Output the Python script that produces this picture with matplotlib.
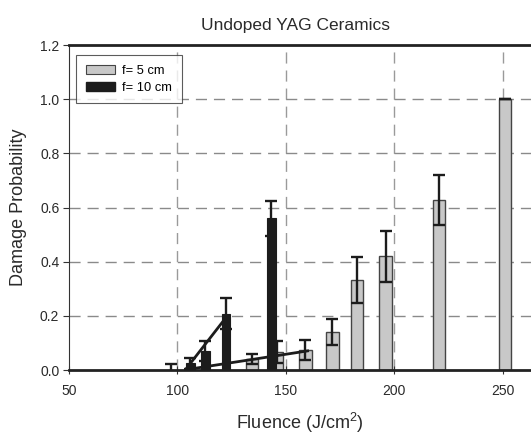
import matplotlib
matplotlib.use("Agg")
import matplotlib.pyplot as plt
from matplotlib.patches import Patch

# ---- data ----
title = "Undoped YAG Ceramics"
xlabel_text = "Fluence (J/cm$^2$)"
ylabel_text = "Damage Probability"
series_labels = ["f= 5 cm", "f= 10 cm"]

# f = 5 cm (gray bars)
f5_x = [134.3, 145.8, 159.0, 171.4, 182.7, 196.0, 220.5, 251.0]
f5_y = [0.040, 0.068, 0.075, 0.141, 0.332, 0.420, 0.628, 1.000]
f5_err = [0.018, 0.040, 0.037, 0.048, 0.085, 0.095, 0.092, 0.0]

# f = 10 cm (black bars)
f10_x = [97.0, 106.0, 112.9, 122.3, 143.3]
f10_y = [0.0, 0.025, 0.070, 0.209, 0.561]
f10_err = [0.022, 0.019, 0.036, 0.056, 0.065]

# fit lines
f10_line_x = [104.1, 120.8]
f10_line_y = [0.006, 0.178]
f5_line_x = [105.0, 160.0]
f5_line_y = [0.003, 0.071]

xticks = [50, 100, 150, 200, 250]
yticks = [0.0, 0.2, 0.4, 0.6, 0.8, 1.0, 1.2]

# ---- figure ----
plt.rcParams['font.family'] = ['Liberation Sans', 'DejaVu Sans']
plt.rcParams['mathtext.fontset'] = 'custom'
plt.rcParams['mathtext.rm'] = 'Liberation Sans'
fig = plt.figure(figsize=(5.31, 4.37), dpi=100)
ax = fig.add_axes([0.130, 0.153, 0.870, 0.744])

gray = "#c8c8c8"
black = "#1c1c1c"
edge = "#444444"
textc = "#2a2a2a"

ax.set_xlim(50, 263)
ax.set_ylim(0, 1.2)

# grid
for xv in xticks[1:]:
    ax.axvline(xv, color="#9a9a9a", lw=1.0, dashes=(8, 5), zorder=0)
for yv in yticks[1:-1]:
    ax.axhline(yv, color="#8a8a8a", lw=1.0, dashes=(8, 5), zorder=0)

ax.bar(f5_x, f5_y, width=5.8, color=gray, edgecolor=edge, linewidth=1.0, zorder=2)
ax.errorbar(f5_x, f5_y, yerr=f5_err, fmt="none", ecolor=black, elinewidth=1.7,
            capsize=4, capthick=1.7, zorder=3)

ax.bar(f10_x, f10_y, width=4.0, color=black, edgecolor=black, linewidth=0.8, zorder=4)
ax.errorbar(f10_x, f10_y, yerr=f10_err, fmt="none", ecolor=black, elinewidth=1.7,
            capsize=4, capthick=1.7, zorder=5)

ax.plot(f10_line_x, f10_line_y, color=black, lw=2.0, zorder=6)
ax.plot(f5_line_x, f5_line_y, color=black, lw=2.0, zorder=6)

# spines
ax.spines['right'].set_visible(False)
ax.spines['top'].set_linewidth(2.0)
ax.spines['top'].set_color("#222222")
ax.spines['bottom'].set_linewidth(2.0)
ax.spines['bottom'].set_color("#222222")
ax.spines['left'].set_linewidth(0.8)
ax.spines['left'].set_color("#333333")

ax.set_xticks(xticks)
ax.set_xticklabels([str(v) for v in xticks])
ax.set_yticks(yticks)
ax.set_yticklabels([f"{v:.1f}" for v in yticks])
ax.tick_params(axis='both', labelsize=10, colors="#333333", labelcolor=textc)
ax.tick_params(axis='y', direction='out', length=4, width=0.8, pad=3)
ax.tick_params(axis='x', direction='inout', length=6, width=0.8, pad=7)

ax.set_xlabel(xlabel_text, fontsize=13, color=textc, labelpad=9)
ax.set_ylabel(ylabel_text, fontsize=13, color=textc, labelpad=9)
ax.set_title(title, fontsize=12.5, color=textc, pad=11, x=0.49)

handles = [Patch(facecolor=gray, edgecolor=edge, linewidth=0.8),
           Patch(facecolor=black, edgecolor=black)]
leg = ax.legend(handles, series_labels, loc="upper left", bbox_to_anchor=(0.015, 0.968),
                borderaxespad=0, fontsize=9.3, frameon=True, fancybox=False,
                edgecolor="#333333", handlelength=2.3, handleheight=0.7,
                borderpad=0.75, labelspacing=0.35, handletextpad=0.55)
leg.get_frame().set_linewidth(0.8)
leg.set_zorder(10)

fig.savefig("out.png", dpi=100)
